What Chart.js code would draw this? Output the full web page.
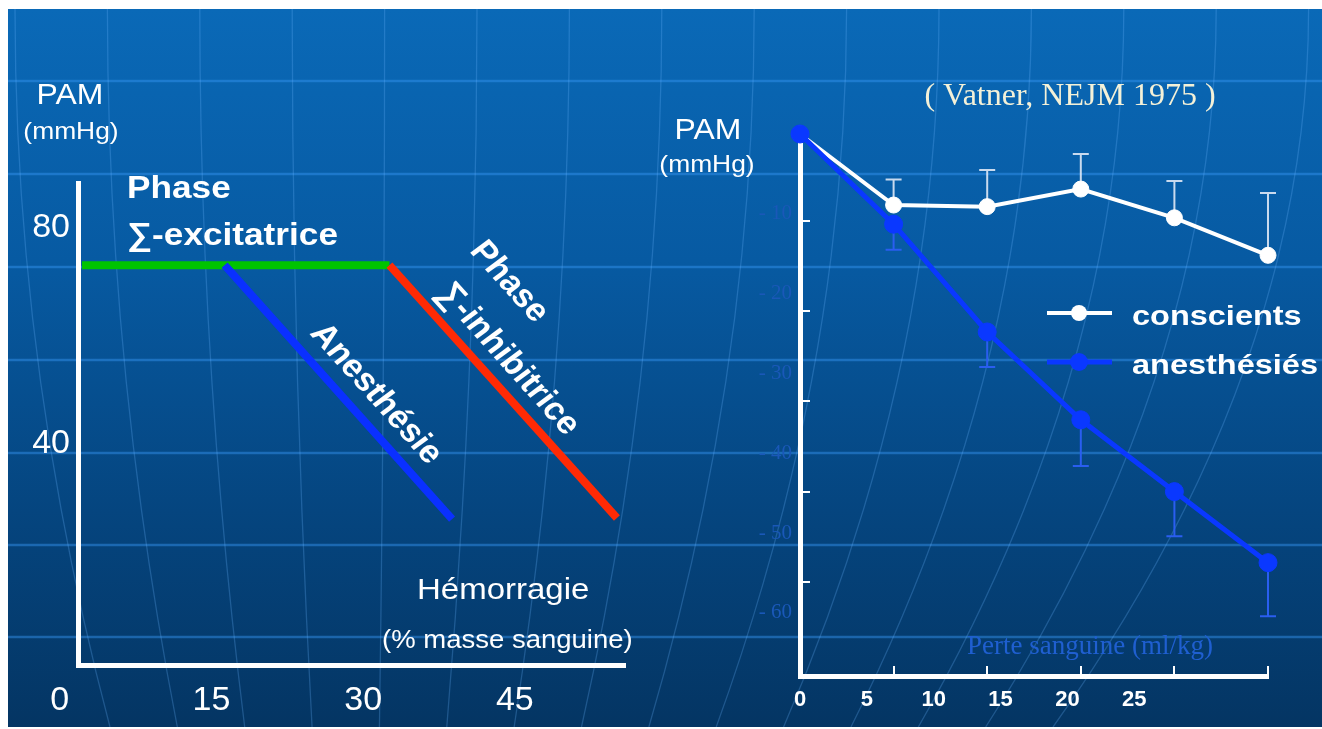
<!DOCTYPE html>
<html>
<head>
<meta charset="utf-8">
<title>PAM et hémorragie</title>
<script src="https://cdn.jsdelivr.net/npm/chart.js@4.4.1/dist/chart.umd.min.js"></script>
<style>
  html, body { margin: 0; padding: 0; background: #fff; }
  #slide {
    position: absolute; left: 8px; top: 9px; width: 1314px; height: 718px; overflow: hidden;
    background: linear-gradient(to bottom, #0a69b7 0%, #075aa2 35%, #05457f 70%, #043563 100%);
  }
  #deco { position: absolute; left: 0; top: 0; }
  #gauche { position: absolute; left: 0; top: 0; }
  #droite { position: absolute; left: 652px; top: 0; }
</style>
</head>
<body>
<div id="slide">
  <svg id="deco" width="1314" height="718"></svg>
  <canvas id="gauche" width="652" height="718"></canvas>
  <canvas id="droite" width="662" height="718"></canvas>
</div>
<script>
// ---------- graphique de gauche : schéma ----------
const HEMO_TICKS = [0, 15, 30, 45];          // % masse sanguine
const PAM_TICKS = [40, 80];                  // mmHg
const EXCIT_X = [2.2, 32.6];                 // phase sympatho-excitatrice
const EXCIT_Y = [73.1, 73.1];
const ANES_X = [16.3, 38.8];                 // anesthésie
const ANES_Y = [73.1, 26.1];
const INHIB_X = [32.6, 55.1];                // phase sympatho-inhibitrice
const INHIB_Y = [73.1, 26.3];

// ---------- graphique de droite : Vatner, NEJM 1975 ----------
const PERTE = [0, 7, 14, 21, 28, 35];                        // ml/kg
const PAM_CONSCIENTS = [0, -8.9, -9.1, -6.9, -10.5, -15.2];  // variation PAM
const ERR_CONSCIENTS = [null, -5.7, -4.5, -2.5, -5.9, -7.4];
const PAM_ANESTHESIES = [0, -11.3, -24.8, -35.8, -44.8, -53.7];
const ERR_ANESTHESIES = [null, -14.5, -29.2, -41.6, -50.4, -60.4];
const PERTE_LABELS = [0, 5, 10, 15, 20, 25];
const PERTE_MARQUES = [7, 14, 21, 28, 35];
const PAM_LABELS = [-10, -20, -30, -40, -50, -60];
const PAM_MARQUES = [-10.9, -22.2, -33.5, -44.9, -56.1];

const BLANC = '#ffffff';
const VERT = '#00c400';
const BLEU = '#0a30ff';
const ROUGE = '#ff2a05';
const BLEU_SERIE = '#0a38ff';
const SANS = 'Liberation Sans';
const SERIF = 'Liberation Serif';

// décor de fond (lignes du globe)
(function () {
  const svg = document.getElementById('deco');
  let s = '';
  [72, 165, 258, 351, 444, 536, 628].forEach(y => {
    s += `<line x1="0" y1="${y}" x2="1314" y2="${y}" stroke="rgba(55,150,245,0.45)" stroke-width="2.5"/>`;
  });
  for (let k = 0; k < 15; k++) {
    const x0 = 7 + 92.4 * k;
    const d = 50 - 0.271 * (x0 + 8 - 181);
    s += `<path d="M${x0} 0 Q ${x0} 359 ${x0 + d} 718" fill="none" stroke="rgba(110,180,255,0.26)" stroke-width="1.3"/>`;
  }
  svg.innerHTML = s;
})();

function texte(ctx, str, x, y, o) {
  ctx.save();
  ctx.font = o.font;
  ctx.fillStyle = o.color || BLANC;
  ctx.textAlign = o.align || 'left';
  ctx.textBaseline = o.baseline || 'alphabetic';
  ctx.translate(x, y);
  ctx.scale(o.sx || 1, 1);
  if (o.angle) ctx.rotate(o.angle);
  ctx.fillText(str, 0, 0);
  ctx.restore();
}

const SX = 1.1;
// angle local tel qu'après l'étirement horizontal la ligne de base fasse 48° à l'écran
const ANGLE = Math.atan(Math.tan(48 * Math.PI / 180) * SX);

const textesGauche = {
  id: 'textesGauche',
  afterDraw(chart) {
    const ctx = chart.ctx;
    const gras = `bold 32px "${SANS}"`;
    texte(ctx, 'PAM', 62, 95, { font: `29px "${SANS}"`, align: 'center', sx: SX });
    texte(ctx, '(mmHg)', 63, 130, { font: `24px "${SANS}"`, align: 'center', sx: SX });
    texte(ctx, 'Phase', 119, 189, { font: gras, sx: SX });
    texte(ctx, '∑-excitatrice', 119, 236, { font: gras, sx: SX });
    texte(ctx, 'Anesthésie', 368, 385, { font: gras, align: 'center', baseline: 'middle', sx: SX, angle: ANGLE });
    texte(ctx, 'Phase', 501, 273, { font: gras, align: 'center', baseline: 'middle', sx: SX, angle: ANGLE });
    texte(ctx, '∑-inhibitrice', 500, 350, { font: gras, align: 'center', baseline: 'middle', sx: SX, angle: ANGLE });
    texte(ctx, 'Hémorragie', 409, 590, { font: `30px "${SANS}"`, sx: SX });
    texte(ctx, '(% masse sanguine)', 374, 639, { font: `25px "${SANS}"`, sx: SX });
  }
};

const pts = (xs, ys) => xs.map((x, i) => ({ x: x, y: ys[i] }));

new Chart(document.getElementById('gauche'), {
  type: 'line',
  data: {
    datasets: [
      { data: pts(INHIB_X, INHIB_Y), borderColor: ROUGE, borderWidth: 8, pointRadius: 0, clip: false },
      { data: pts(ANES_X, ANES_Y), borderColor: BLEU, borderWidth: 8, pointRadius: 0, clip: false },
      { data: pts(EXCIT_X, EXCIT_Y), borderColor: VERT, borderWidth: 8, pointRadius: 0, clip: false }
    ]
  },
  options: {
    responsive: false,
    animation: false,
    devicePixelRatio: 1,
    layout: { padding: { left: 0, top: 174, right: 35, bottom: 0 } },
    plugins: { legend: { display: false }, tooltip: { enabled: false } },
    scales: {
      x: {
        type: 'linear', min: 1.8, max: 55.9,
        afterBuildTicks: s => { s.ticks = HEMO_TICKS.map(v => ({ value: v })); },
        afterFit: s => { s.height = 62; },
        grid: { display: false, drawTicks: false },
        border: { display: true, color: BLANC, width: 5 },
        ticks: { color: BLANC, font: { family: SANS, size: 34 }, padding: 15, autoSkip: false, maxRotation: 0 }
      },
      y: {
        type: 'linear', min: -0.9, max: 88.3,
        afterBuildTicks: s => { s.ticks = PAM_TICKS.map(v => ({ value: v })); },
        afterFit: s => { s.width = 70; },
        grid: { display: false, drawTicks: false },
        border: { display: true, color: BLANC, width: 5 },
        ticks: { color: BLANC, font: { family: SANS, size: 34 }, padding: 8 }
      }
    }
  },
  plugins: [textesGauche]
});

// ---------- droite ----------
const barresErreur = {
  id: 'barresErreur',
  beforeDatasetsDraw(chart) {
    const ctx = chart.ctx;
    const xs = chart.scales.x, ys = chart.scales.y;
    const series = [
      { v: PAM_CONSCIENTS, e: ERR_CONSCIENTS, c: 'rgba(235,240,250,0.85)' },
      { v: PAM_ANESTHESIES, e: ERR_ANESTHESIES, c: '#2a5ef0' }
    ];
    ctx.save();
    ctx.lineWidth = 2;
    series.forEach(s => {
      ctx.strokeStyle = s.c;
      PERTE.forEach((p, i) => {
        if (s.e[i] === null) return;
        const x = xs.getPixelForValue(p);
        const y1 = ys.getPixelForValue(s.v[i]);
        const y2 = ys.getPixelForValue(s.e[i]);
        ctx.beginPath();
        ctx.moveTo(x, y1); ctx.lineTo(x, y2);
        ctx.moveTo(x - 8, y2); ctx.lineTo(x + 8, y2);
        ctx.stroke();
      });
    });
    ctx.restore();
  }
};

const legende = {
  id: 'legende',
  afterDraw(chart) {
    const ctx = chart.ctx;
    const lignes = [304, 353];
    chart.data.datasets.forEach((ds, i) => {
      const y = lignes[i];
      ctx.save();
      ctx.strokeStyle = ds.borderColor;
      ctx.lineWidth = ds.borderWidth;
      ctx.beginPath(); ctx.moveTo(387, y); ctx.lineTo(452, y); ctx.stroke();
      ctx.fillStyle = ds.pointBackgroundColor;
      ctx.beginPath(); ctx.arc(419, y, ds.pointRadius, 0, 2 * Math.PI); ctx.fill();
      ctx.restore();
      texte(ctx, ds.label, 472, y + 12, { font: `bold 28px "${SANS}"`, sx: 1.16 });
    });
  }
};

const textesDroite = {
  id: 'textesDroite',
  afterDraw(chart) {
    const ctx = chart.ctx;
    texte(ctx, 'PAM', 48, 130, { font: `29px "${SANS}"`, align: 'center', sx: SX });
    texte(ctx, '(mmHg)', 47, 163, { font: `24px "${SANS}"`, align: 'center', sx: SX });
    texte(ctx, '( Vatner, NEJM 1975 )', 410, 96, { font: `32px "${SERIF}"`, align: 'center', color: '#f4f1d8' });
    texte(ctx, 'Perte sanguine (ml/kg)', 430, 645, { font: `27px "${SERIF}"`, align: 'center', color: '#1f5fd0' });
  }
};

new Chart(document.getElementById('droite'), {
  type: 'line',
  data: {
    datasets: [
      {
        label: 'conscients', data: pts(PERTE, PAM_CONSCIENTS), order: 1, clip: false,
        borderColor: BLANC, borderWidth: 4,
        pointRadius: 8, pointBackgroundColor: BLANC, pointBorderColor: BLANC, pointBorderWidth: 1
      },
      {
        label: 'anesthésiés', data: pts(PERTE, PAM_ANESTHESIES), order: 0, clip: false,
        borderColor: BLEU_SERIE, borderWidth: 5,
        pointRadius: 9, pointBackgroundColor: BLEU_SERIE, pointBorderColor: BLEU_SERIE, pointBorderWidth: 1
      }
    ]
  },
  options: {
    responsive: false,
    animation: false,
    devicePixelRatio: 1,
    layout: { padding: { left: 0, top: 121, right: 54, bottom: 0 } },
    plugins: { legend: { display: false }, tooltip: { enabled: false } },
    scales: {
      x: {
        type: 'linear', position: 'bottom', min: 0, max: 35, weight: 0,
        afterBuildTicks: s => { s.ticks = PERTE_MARQUES.map(v => ({ value: v })); },
        afterFit: s => { s.height = 0; },
        grid: { display: true, drawOnChartArea: false, drawTicks: true, tickLength: -10, color: BLANC, lineWidth: 2 },
        border: { display: true, color: BLANC, width: 5 },
        ticks: { display: false }
      },
      xLab: {
        type: 'linear', position: 'bottom', min: 0, max: 35, weight: 1,
        afterBuildTicks: s => { s.ticks = PERTE_LABELS.map(v => ({ value: v })); },
        afterFit: s => { s.height = 51; },
        grid: { display: false, drawTicks: false },
        border: { display: false },
        ticks: { color: BLANC, font: { family: SANS, size: 22, weight: 'bold' }, padding: 11, autoSkip: false, maxRotation: 0 }
      },
      y: {
        type: 'linear', position: 'left', min: -67.9, max: 0.5, weight: 0,
        afterBuildTicks: s => { s.ticks = PAM_MARQUES.map(v => ({ value: v })); },
        afterFit: s => { s.width = 0; },
        grid: { display: true, drawOnChartArea: false, drawTicks: true, tickLength: -10, color: BLANC, lineWidth: 2 },
        border: { display: true, color: BLANC, width: 5 },
        ticks: { display: false }
      },
      yLab: {
        type: 'linear', position: 'left', min: -67.9, max: 0.5, weight: 1,
        afterBuildTicks: s => { s.ticks = PAM_LABELS.map(v => ({ value: v })); },
        afterFit: s => { s.width = 140; },
        grid: { display: false, drawTicks: false },
        border: { display: false },
        ticks: {
          color: '#1a58b8', font: { family: SERIF, size: 21 }, padding: 8,
          callback: v => '- ' + Math.abs(v)
        }
      }
    }
  },
  plugins: [barresErreur, legende, textesDroite]
});
</script>
</body>
</html>
